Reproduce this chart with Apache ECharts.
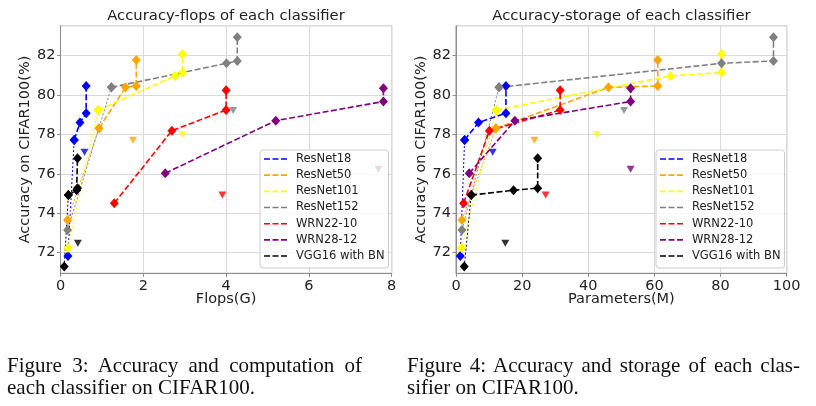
<!DOCTYPE html>
<html><head><meta charset="utf-8">
<script src="https://cdn.jsdelivr.net/npm/echarts@6/dist/echarts.min.js"></script>
<style>
html,body{margin:0;padding:0;background:#fff}
#wrap{position:relative;width:816px;height:406px}
#c{width:816px;height:406px}
.cap{position:absolute;font-family:'Liberation Serif',serif;font-size:21px;line-height:22px;color:#111;white-space:nowrap}
.cap .l1{text-align:justify;text-align-last:justify;white-space:normal}
</style>
</head><body><div id="wrap"><div id="c"></div>
<div class="cap" style="left:7px;top:354px;width:355px"><div class="l1">Figure 3: Accuracy and computation of</div><div>each classifier on CIFAR100.</div></div>
<div class="cap" style="left:407px;top:354px;width:393px"><div class="l1">Figure 4: Accuracy and storage of each clas-</div><div>sifier on CIFAR100.</div></div>
</div>
<script>
// ---- data ----
const modelNames = ['ResNet18','ResNet50','ResNet101','ResNet152','WRN22-10','WRN28-12','VGG16 with BN'];
// accuracy of each exit classifier, last value = ensemble
const resnet18Acc  = [71.83, 77.72, 78.60, 79.08, 80.46];
const resnet50Acc  = [73.66, 78.31, 80.39, 80.46, 81.78];
const resnet101Acc = [72.24, 79.24, 80.97, 81.14, 82.07];
const resnet152Acc = [73.15, 80.39, 81.61, 81.73, 82.93];
const wrn2210Acc   = [74.51, 78.19, 79.24, 80.24];
const wrn2812Acc   = [76.03, 78.70, 79.67, 80.34];
const vgg16Acc     = [71.29, 74.92, 75.17, 75.27, 76.79];
// flops (G)
const resnet18Flops  = [0.18, 0.33, 0.47, 0.62, 0.62];
const resnet50Flops  = [0.17, 0.93, 1.57, 1.83, 1.83];
const resnet101Flops = [0.18, 0.91, 2.77, 2.95, 2.95];
const resnet152Flops = [0.17, 1.23, 4.01, 4.27, 4.27];
const wrn2210Flops   = [1.30, 2.69, 4.00, 4.00];
const wrn2812Flops   = [2.53, 5.20, 7.80, 7.80];
const vgg16Flops     = [0.09, 0.19, 0.39, 0.41, 0.41];
// parameters (M)
const resnet18Params  = [1.3, 2.6, 6.8, 15.1, 15.1];
const resnet50Params  = [1.8, 12.1, 46.1, 61.0, 61.0];
const resnet101Params = [1.7, 12.2, 64.9, 80.3, 80.3];
const resnet152Params = [1.8, 13.0, 80.3, 96.0, 96.0];
const wrn2210Params   = [2.3, 10.1, 31.5, 31.5];
const wrn2812Params   = [4.0, 17.8, 52.8, 52.8];
const vgg16Params     = [2.5, 4.6, 17.4, 24.7, 24.7];
// baseline models (triangles)
const baselineFlops  = [0.58, 1.75, 2.95, 4.17, 3.91, 7.68, 0.42];
const baselineParams = [11.1, 23.7, 42.6, 50.8, 27.1, 52.8, 14.9];
const baselineAcc    = [77.10, 77.71, 77.99, 79.22, 74.93, 76.23, 72.48];
// axis ticks
const flopsTicks = [0, 2, 4, 6, 8];
const paramsTicks = [0, 20, 40, 60, 80, 100];
const accTicks = [72, 74, 76, 78, 80, 82];

const accArrs = [resnet18Acc, resnet50Acc, resnet101Acc, resnet152Acc, wrn2210Acc, wrn2812Acc, vgg16Acc];
const flopsArrs = [resnet18Flops, resnet50Flops, resnet101Flops, resnet152Flops, wrn2210Flops, wrn2812Flops, vgg16Flops];
const paramsArrs = [resnet18Params, resnet50Params, resnet101Params, resnet152Params, wrn2210Params, wrn2812Params, vgg16Params];

const colorsList = ['#0000ff','#ffa500','#ffff00','#808080','#ff0000','#800080','#000000'];
const FONT = 'DejaVu Sans';
const SPINE = '#8c8c8c';
const GRIDC = '#dadada';

function buildSeries(gi, xArrs, baseX) {
  const out = [];
  modelNames.forEach((name, i) => {
    const color = colorsList[i];
    const pts = xArrs[i].map((x, k) => [x, accArrs[i][k]]);
    const split = accArrs[i].length === 5;
    const common = {
      name, type: 'line', xAxisIndex: gi, yAxisIndex: gi,
      symbol: 'diamond', symbolSize: [9, 10], showAllSymbol: true,
      itemStyle: { color }, silent: true, animation: false
    };
    if (split) {
      out.push(Object.assign({}, common, {
        data: pts.slice(0, 2),
        lineStyle: { color, width: 1, type: [2, 2] }
      }));
    }
    out.push(Object.assign({}, common, {
      data: split ? pts.slice(1) : pts,
      lineStyle: { color, width: 1.6, type: [6, 2.5] }
    }));
    out.push({
      name, type: 'scatter', xAxisIndex: gi, yAxisIndex: gi,
      data: [[baseX[i], baselineAcc[i]]],
      symbol: 'triangle', symbolRotate: 180, symbolSize: [8, 7],
      itemStyle: { color }, silent: true, animation: false
    });
  });
  return out;
}

function xAxis(gi, name, ticks) {
  return {
    type: 'value', gridIndex: gi, min: ticks[0], max: ticks[ticks.length - 1],
    interval: ticks[1] - ticks[0],
    name, nameLocation: 'middle', nameGap: 18, nameMoveOverlap: false,
    nameTextStyle: { fontFamily: FONT, fontSize: 14.5, color: '#222' },
    axisLine: { show: true, lineStyle: { color: SPINE, width: 1 } },
    axisTick: { show: true, length: 3.5, lineStyle: { color: SPINE } },
    axisLabel: { fontFamily: FONT, fontSize: 14.5, color: '#222', margin: 5 },
    splitLine: { show: true, lineStyle: { color: GRIDC, width: 1 } }
  };
}
function yAxis(gi) {
  return {
    type: 'value', gridIndex: gi, min: 70.95, max: 83.52,
    minInterval: accTicks[1] - accTicks[0], maxInterval: accTicks[1] - accTicks[0], splitNumber: 6,
    name: 'Accuracy on CIFAR100(%)', nameLocation: 'middle', nameGap: 26, nameRotate: 90,
    nameTextStyle: { fontFamily: FONT, fontSize: 14.5, color: '#222' },
    axisLine: { show: true, lineStyle: { color: SPINE, width: 1 } },
    axisTick: { show: true, length: 3.5, lineStyle: { color: SPINE } },
    axisLabel: { fontFamily: FONT, fontSize: 14.5, color: '#222', margin: 5, showMinLabel: false, showMaxLabel: false },
    splitLine: { show: true, lineStyle: { color: GRIDC, width: 1 } }
  };
}
function legend(left) {
  return {
    data: modelNames, orient: 'vertical', left, top: 150,
    padding: [2, 4, 5, 4], itemGap: 2.17, itemWidth: 23, itemHeight: 1.6,
    icon: 'path://M0,0h6v1.6h-6z M8.5,0h6v1.6h-6z M17,0h6v1.6h-6z',
    selectedMode: false,
    backgroundColor: 'rgba(255,255,255,0.8)', borderColor: '#cccccc', borderWidth: 1, borderRadius: 3,
    textStyle: { fontFamily: FONT, fontSize: 11.5, color: '#222', lineHeight: 14, padding: [0, 0, 0, 4] }
  };
}

const chart = echarts.init(document.getElementById('c'), null, { renderer: 'canvas' });
chart.setOption({
  animation: false,
  backgroundColor: '#ffffff',
  grid: [
    { left: 60.5, top: 25.7, width: 331.2, height: 247.6, show: true, borderColor: SPINE, borderWidth: 1 },
    { left: 456, top: 25.7, width: 330.7, height: 247.6, show: true, borderColor: SPINE, borderWidth: 1 }
  ],
  xAxis: [xAxis(0, 'Flops(G)', flopsTicks), xAxis(1, 'Parameters(M)', paramsTicks)],
  yAxis: [yAxis(0), yAxis(1)],
  legend: [legend(260), legend(656)],
  series: buildSeries(0, flopsArrs, baselineFlops).concat(buildSeries(1, paramsArrs, baselineParams)),
  graphic: [
    { type: 'text', x: 226, y: 16, silent: true,
      style: { text: 'Accuracy-flops of each classifier', align: 'center', verticalAlign: 'middle', textAlign: 'center', textVerticalAlign: 'middle', fontFamily: FONT, fontSize: 14.8, fill: '#222' } },
    { type: 'text', x: 621.5, y: 16, silent: true,
      style: { text: 'Accuracy-storage of each classifier', align: 'center', verticalAlign: 'middle', textAlign: 'center', textVerticalAlign: 'middle', fontFamily: FONT, fontSize: 14.8, fill: '#222' } }
  ]
});
</script>
</body></html>
